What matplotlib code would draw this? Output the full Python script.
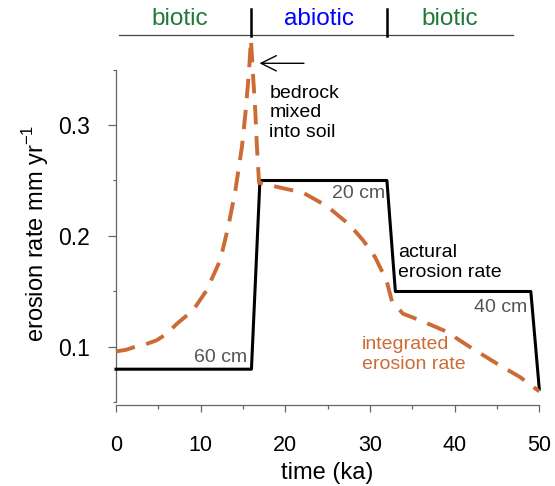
import matplotlib
matplotlib.use('Agg')
import matplotlib.pyplot as plt
import matplotlib.transforms as mtransforms
from matplotlib.ticker import MultipleLocator

plt.rcParams['font.family'] = ['Liberation Sans', 'DejaVu Sans']

# actual (step) erosion rate
time_actual = [0, 16, 17, 32, 33, 49, 50]
rate_actual = [0.08, 0.08, 0.25, 0.25, 0.15, 0.15, 0.062]

# integrated erosion rate
time_integ = [0, 1.2, 2.2, 3.5, 4.8, 6.0, 7.2, 9.1, 10.7, 12.3, 13.25, 14.1, 14.87, 15.27,
              15.7, 15.94, 16.17, 16.45, 16.65, 16.9, 19.75, 22.1, 24.9, 27.6, 29.2,
              30.6, 31.95, 32.6, 33.9, 36.25, 39.0, 41.8, 45.0, 47.7, 50]
rate_integ = [0.096, 0.0975, 0.100, 0.1025, 0.106, 0.112, 0.121, 0.133, 0.151, 0.178,
              0.208, 0.241, 0.280, 0.309, 0.347, 0.377, 0.347, 0.313, 0.280, 0.248,
              0.243, 0.239, 0.227, 0.210, 0.196, 0.181, 0.160, 0.141, 0.130, 0.123,
              0.114, 0.100, 0.085, 0.073, 0.060]

# regime bar on top
regime_labels = ['biotic', 'abiotic', 'biotic']
regime_bounds = [16, 32]

orange = '#cd6b36'
grey = '#666666'

fig = plt.figure(figsize=(5.55, 4.86), dpi=100)
ax = fig.add_axes([0.209, 0.1667, 0.7627, 0.7588])

ax.plot(time_actual, rate_actual, color='black', linewidth=2.2, clip_on=False, zorder=3)
ax.plot(time_integ, rate_integ, color=orange, linewidth=2.8, dashes=(5, 3),
        clip_on=False, zorder=4)

ax.set_xlim(0, 50)
ax.set_ylim(0.04775, 0.38)
for s in ['top', 'right']:
    ax.spines[s].set_visible(False)
for s in ['left', 'bottom']:
    ax.spines[s].set_color(grey)
    ax.spines[s].set_linewidth(0.9)
ax.spines['left'].set_bounds(0.05, 0.35)

ax.xaxis.set_major_locator(MultipleLocator(10))
ax.xaxis.set_minor_locator(MultipleLocator(5))
ax.set_yticks([0.05, 0.15, 0.25, 0.35], minor=True)
ax.set_yticks([0.1, 0.2, 0.3])
ax.set_yticklabels(['0.1', '0.2', '0.3'])
ax.tick_params(axis='x', which='major', length=5, width=0.9, color=grey,
               labelsize=15.5, pad=16.5)
ax.tick_params(axis='x', which='minor', length=3, width=0.9, color=grey)
ax.tick_params(axis='y', which='major', length=5.8, width=0.9, color=grey,
               labelsize=16.5, pad=13)
ax.tick_params(axis='y', which='minor', length=2.5, width=0.9, color=grey)

ax.set_xlabel('time (ka)', fontsize=17, va='center')
ax.xaxis.set_label_coords(0.498, -0.184)
ax.set_ylabel('erosion rate mm yr$^{\\mathregular{-1}}$', fontsize=17, va='center')
ax.yaxis.set_label_coords(-0.191, 0.465)

# annotations
tsize = 14
ax.text(18.13, 0.311, 'bedrock\nmixed\ninto soil', fontsize=tsize, ha='left', va='center')
ax.annotate('', xy=(16.95, 0.3556), xytext=(22.2, 0.3556),
            arrowprops=dict(arrowstyle='->,head_length=1.1,head_width=0.55',
                            color='black', lw=1.0, shrinkA=0, shrinkB=0),
            annotation_clip=False)
ax.text(28.65, 0.2387, '20 cm', fontsize=tsize, color='#555555', ha='center', va='center')
ax.text(12.31, 0.0901, '60 cm', fontsize=tsize, color='#555555', ha='center', va='center')
ax.text(45.47, 0.136, '40 cm', fontsize=tsize, color='#555555', ha='center', va='center')
ax.text(33.3, 0.1761, 'actural\nerosion rate', fontsize=tsize, ha='left', va='center')
ax.text(29.04, 0.0932, 'integrated\nerosion rate', fontsize=tsize, color=orange,
        ha='left', va='center')

# header with biotic / abiotic periods
trans = mtransforms.blended_transform_factory(ax.transData, fig.transFigure)
fig.add_artist(plt.Line2D([118.5 / 555, 512.5 / 555], [0.929, 0.929],
                          color='#444444', linewidth=0.9))
for b in regime_bounds:
    fig.add_artist(plt.Line2D([b, b], [0.9267, 0.9817], transform=trans,
                              color='black', linewidth=1.8))
fig.text(180 / 555, 0.961, regime_labels[0], fontsize=17.5, color='#1f7a3a',
         ha='center', va='center')
fig.text(319 / 555, 0.961, regime_labels[1], fontsize=17.5, color='#0000ff',
         ha='center', va='center')
fig.text(449.5 / 555, 0.961, regime_labels[2], fontsize=17.5, color='#1f7a3a',
         ha='center', va='center')

fig.savefig('out.png', dpi=100)
